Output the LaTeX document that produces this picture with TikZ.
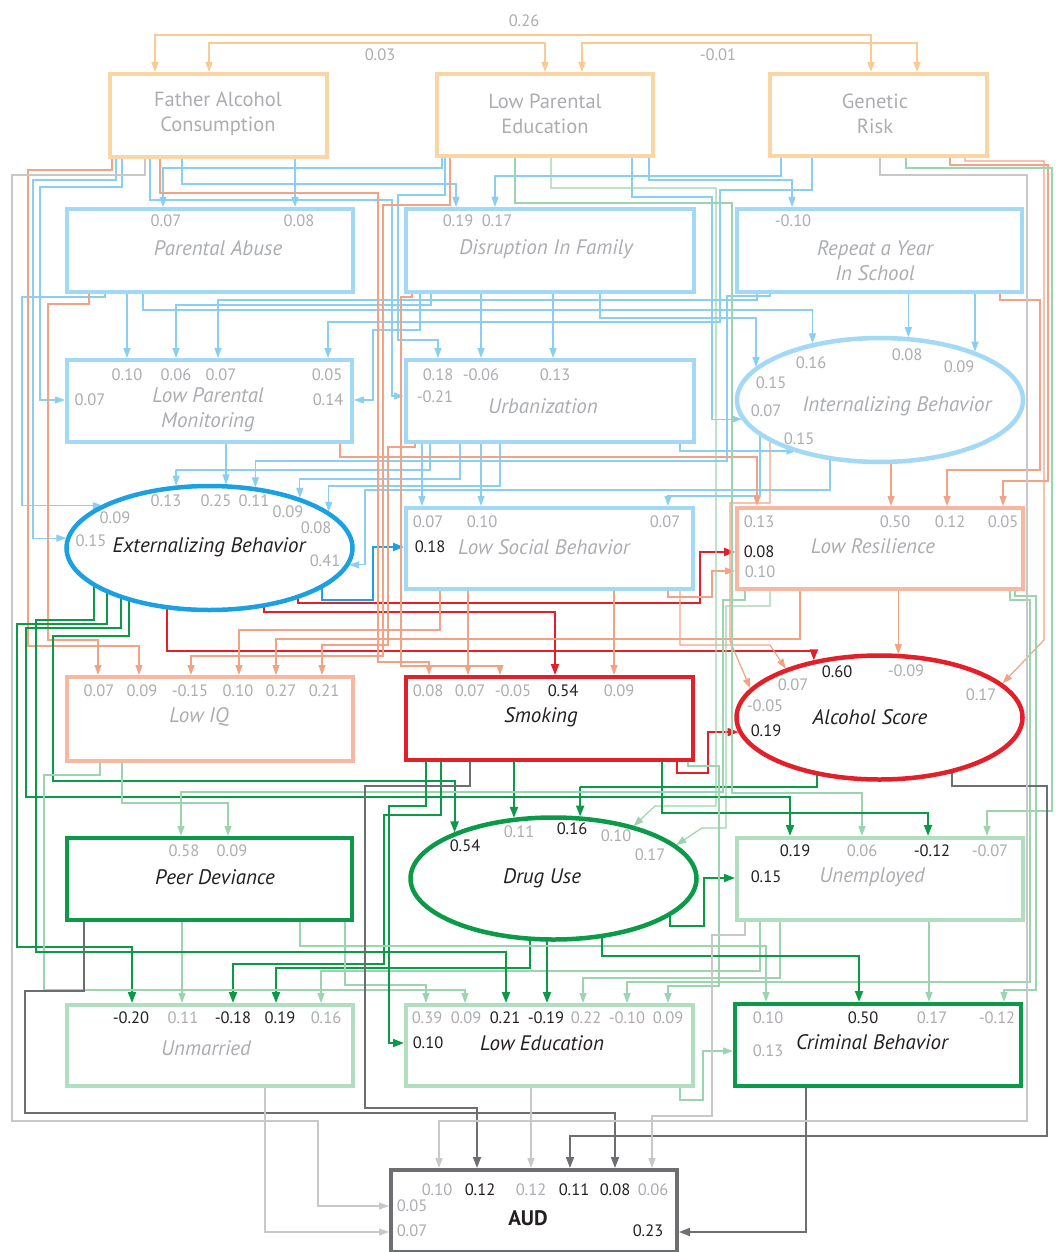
\documentclass[tikz,border=0pt]{standalone}
\usepackage{fontspec}
\setmainfont{PT Sans}
\usetikzlibrary{arrows.meta,shapes.geometric}
\definecolor{cOr}{HTML}{F9D6A3}
\definecolor{cOrw}{HTML}{F8CC90}
\definecolor{cLB}{HTML}{A3D9F4}
\definecolor{wLB}{HTML}{8ACFF0}
\definecolor{cB}{HTML}{1BA1E2}
\definecolor{cSa}{HTML}{F7B7A0}
\definecolor{wSa}{HTML}{F4A285}
\definecolor{cR}{HTML}{E3202A}
\definecolor{cLG}{HTML}{B0DEBE}
\definecolor{wLG}{HTML}{9BD4AE}
\definecolor{cG}{HTML}{0B9B48}
\definecolor{cGr}{HTML}{C8C8C8}
\definecolor{cDg}{HTML}{6D6E71}
\definecolor{tL}{HTML}{ABADB0}
\definecolor{tD}{HTML}{231F20}
\pgfdeclarelayer{back}\pgfdeclarelayer{wires}\pgfsetlayers{back,wires,main}
\newcounter{nn}
\newcommand\lab[3][lgt]{\stepcounter{nn}\node[#1] (t\thenn) at (#2) {#3};}
\tikzset{
 box/.style={rectangle, inner sep=0pt, outer sep=0pt, fill=white, line width=4.5pt},
 ell/.style={ellipse, inner sep=0pt, outer sep=0pt, fill=white, line width=4.5pt},
 wire/.style={line width=1.2pt, shorten >=2pt, -{Triangle[length=10pt,width=7pt]}},
 wb/.style={wire, draw=wLB}, ws/.style={wire, draw=wSa}, wg/.style={wire, draw=wLG}, wgr/.style={wire, draw=cGr},
 strong/.style={line width=2pt, shorten >=2pt, -{Triangle[length=11pt,width=8pt]}},
 WB/.style={strong, draw=cB}, WR/.style={strong, draw=cR}, WG/.style={strong, draw=cG}, WD/.style={strong, draw=cDg, line width=1.7pt},
 cor/.style={line width=1.5pt, draw=cOrw, {Triangle[length=10pt,width=7pt]}-{Triangle[length=10pt,width=7pt]}, shorten <=2pt, shorten >=2pt},
 lgt/.style={inner sep=0pt, text=tL, font=\fontsize{16.5}{19}\selectfont},
 drk/.style={lgt, text=tD},
 ttl/.style={inner sep=0pt, text=tL, align=center, font=\fontsize{21}{25}\selectfont\itshape},
 ttld/.style={ttl, text=tD},
 ttlx/.style={ttl, font=\fontsize{20.5}{25}\selectfont},
 audt/.style={inner sep=0pt, text=tD, font=\fontsize{21}{24}\selectfont\bfseries},
}
\begin{document}
\begin{tikzpicture}[x=1pt,y=-1pt]
\begin{pgfonlayer}{back}
\fill[white] (0,0) rectangle (1056,1252);
\end{pgfonlayer}
\useasboundingbox (0,0) rectangle (1056,1252);
% nodes
\node[box, draw=cOr, minimum width=217pt, minimum height=83pt] (fa) at (218.5,115.5) {};
\node[box, draw=cOr, minimum width=216pt, minimum height=82pt] (lpe) at (545,115) {};
\node[box, draw=cOr, minimum width=217pt, minimum height=82pt] (gr) at (878.5,115) {};
\node[box, draw=cLB, minimum width=286pt, minimum height=83pt] (pa) at (210,250.5) {};
\node[box, draw=cLB, minimum width=288pt, minimum height=83pt] (dif) at (550,250.5) {};
\node[box, draw=cLB, minimum width=285pt, minimum height=83pt] (rys) at (879.5,250.5) {};
\node[box, draw=cLB, minimum width=285pt, minimum height=82pt] (lpm) at (209.5,401) {};
\node[box, draw=cLB, minimum width=288pt, minimum height=82pt] (urb) at (550,401) {};
\node[ell, draw=cLB, minimum width=286pt, minimum height=124pt] (intb) at (880,400) {};
\node[ell, draw=cB, minimum width=286pt, minimum height=124pt] (extb) at (209.5,548) {};
\node[box, draw=cLB, minimum width=287pt, minimum height=81pt] (lsb) at (549.5,548.5) {};
\node[box, draw=cSa, minimum width=286pt, minimum height=81pt] (lres) at (880,548.5) {};
\node[box, draw=cSa, minimum width=286pt, minimum height=84pt] (liq) at (210,719) {};
\node[box, draw=cR, minimum width=287pt, minimum height=83pt] (smk) at (549.5,718.5) {};
\node[ell, draw=cR, minimum width=286pt, minimum height=124pt] (alc) at (879.5,717.5) {};
\node[box, draw=cG, minimum width=285pt, minimum height=82pt] (pd) at (209.5,879) {};
\node[ell, draw=cG, minimum width=286pt, minimum height=122pt] (drug) at (553.5,878.5) {};
\node[box, draw=cLG, minimum width=286pt, minimum height=82pt] (unemp) at (880,879) {};
\node[box, draw=cLG, minimum width=286pt, minimum height=81pt] (unm) at (210,1045.5) {};
\node[box, draw=cLG, minimum width=287pt, minimum height=81pt] (ledu) at (549.5,1045.5) {};
\node[box, draw=cG, minimum width=286pt, minimum height=82pt] (crim) at (878,1045) {};
\node[box, draw=cDg, minimum width=286pt, minimum height=82pt] (aud) at (534,1211) {};

\begin{pgfonlayer}{wires}
% correlations
\draw[cor] (fa.north -| 155,0) |- (871,35) -- (gr.north -| 871,0);
\draw[cor] (fa.north -| 209,0) |- (545,43) -- (lpe.north -| 545,0);
\draw[cor] (lpe.north -| 582,0) |- (917,43) -- (gr.north -| 917,0);
% row 2
\draw[wb] (fa.center -| 295,0) -- (pa.north -| 295,0);
\draw[wb] (lpe.center -| 442,0) |- (163,168) -- (pa.north -| 163,0);
\draw[wb] (fa.center -| 182,0) |- (456,184) -- (dif.north -| 456,0);
\draw[wb] (gr.center -| 781,0) |- (495,176) -- (dif.north -| 495,0);
\draw[wb] (lpe.center -| 649,0) |- (792,180) -- (rys.north -| 792,0);
% row 3
\draw[wb] (pa.center -| 127,0) -- (lpm.north -| 127,0);
\draw[wb] (dif.center -| 431,0) |- (176,305) -- (lpm.north -| 176,0);
\draw[wb] (rys.center -| 757,0) |- (218,300) -- (lpm.north -| 218,0);
\draw[wb] (gr.center -| 812,0) |- (720,190) |- (328,322) -- (lpm.north -| 328,0);
\draw[wb] (fa.center -| 122,0) |- (40,187) |- (lpm.west |- 0,400);
\draw[wb] (dif.center -| 420,0) |- (373,330) |- (lpm.east |- 0,400);
\draw[wb] (lpe.center -| 445,0) |- (398,195) |- (438,340) -- (urb.north -| 438,0);
\draw[wb] (dif.center -| 481,0) -- (urb.north -| 481,0);
\draw[wb] (dif.center -| 553,0) -- (urb.north -| 553,0);
\draw[wb] (fa.center -| 150,0) |- (392,200) |- (urb.west |- 0,396);
\draw[wb] (pa.center -| 143,0) |- (812,310) -| (intb.141);
\draw[wb] (rys.center -| 908,0) -| (intb.65);
\draw[wb] (rys.center -| 975,0) -| (intb.26);
\draw[wb] (dif.center -| 600,0) |- (756,318) -| (intb.166);
\draw[wb] (lpe.center -| 632,0) |- (712,197) |- (intb.188);
\draw[wb] (urb.center -| 680,0) |- (intb.212);
% row 4
\draw[wb] (urb.center -| 430,0) |- (176,470) -| (extb.119);
\draw[wb] (lpm.center -| 225,0) -| (extb.75);
\draw[wb] (rys.center -| 770,0) |- (727,296) |- (255,461) -| (extb.52);
\draw[wb] (urb.center -| 460,0) |- (300,479) -| (extb.28);
\draw[wb] (urb.center -| 500,0) |- (328,486) -| (extb.16);
\draw[wb] (pa.center -| 105,0) |- (22,297) |- (extb.158);
\draw[wb] (fa.center -| 116,0) |- (33,180) |- (extb.176);
\draw[wb] (intb.center -| 830,0) |- (365,490) |- (extb.353);
\draw[wb] (urb.center -| 422,0) -- (lsb.north -| 422,0);
\draw[wb] (urb.center -| 481,0) -- (lsb.north -| 481,0);
\draw[wb] (intb.center -| 760,0) |- (668,496) -- (lsb.north -| 668,0);
\draw[WB] (extb.center -| 322,0) |- (373,600) |- (lsb.west |- 0,547);
\draw[ws] (lpm.center -| 340,0) |- (757,457) -- (lres.north -| 757,0);
\draw[ws] (intb.center -| 891,0) -- (lres.north -| 891,0);
\draw[ws] (rys.center -| 1000,0) |- (1040,300) |- (947,470) -- (lres.north -| 947,0);
\draw[ws] (gr.center -| 950,0) |- (1048,165) |- (1003,481) -- (lres.north -| 1003,0);
\draw[WR] (extb.center -| 298,0) |- (700,603) |- (lres.west |- 0,552);
\draw[ws] (lsb.center -| 668,0) |- (712,597) |- (lres.west |- 0,571);
% row 5
\draw[WR] (extb.center -| 264,0) |- (555,612) -- (smk.north -| 555,0);
\draw[WR] (extb.center -| 167,0) |- (815,651) -| (alc.140);
\draw[ws] (pa.center -| 89,0) |- (48,304) |- (98,640) -- (liq.north -| 98,0);
\draw[ws] (fa.center -| 112,0) |- (28,170) |- (139,646) -- (liq.north -| 139,0);
\draw[ws] (lpe.center -| 450,0) |- (383,205) |- (191,656) -- (liq.north -| 191,0);
\draw[ws] (lsb.center -| 440,0) |- (239,630) -- (liq.north -| 239,0);
\draw[ws] (lres.center -| 800,0) |- (276,639) -- (liq.north -| 276,0);
\draw[ws] (urb.center -| 415,0) |- (388,447) |- (322,645) -- (liq.north -| 322,0);
\draw[ws] (fa.center -| 160,0) |- (378,193) |- (429,662) -- (smk.north -| 429,0);
\draw[ws] (lsb.center -| 468,0) -- (smk.north -| 468,0);
\draw[ws] (dif.center -| 412,0) |- (401,297) |- (500,666) -- (smk.north -| 500,0);
\draw[ws] (lsb.center -| 614,0) -- (smk.north -| 614,0);
\draw[ws] (lsb.center -| 680,0) |- (770,645) -- (alc.153);
\draw[ws] (intb.center -| 770,0) |- (730,503) -- (730,641) -- (alc.168);
\draw[ws] (lres.center -| 899,0) -| (alc.73);
\draw[ws] (gr.center -| 965,0) |- (1044,161) -- (1044,640) -- (alc.15);
\draw[WR] (smk.center -| 677,0) |- (708,773) |- (alc.186);
% row 6
\draw[WG] (extb.center -| 129,0) |- (53,636) |- (454,781) -| (drug.156);
\draw[WG] (smk.center -| 513,0) -| (drug.124);
\draw[WG] (alc.center -| 817,0) |- (580,787) -| (drug.66);
\draw[wg] (lpe.center -| 551,0) |- (716,188) -- (716,806) -- (655,806) -- (drug.33);
\draw[wg] (lres.center -| 770,0) |- (726,606) -- (726,828) -- (702,828) -- (drug.15);
\draw[WG] (extb.center -| 121,0) |- (26,628) |- (790,797) -- (unemp.north -| 790,0);
\draw[wg] (lpe.center -| 515,0) |- (732,203) |- (862,793) -- (unemp.north -| 862,0);
\draw[WG] (smk.center -| 662,0) |- (928,813) -- (unemp.north -| 928,0);
\draw[wg] (gr.center -| 906,0) |- (1052,168) |- (987,811) -- (unemp.north -| 987,0);
\draw[WG] (drug.center -| 670,0) |- (704,926) |- (unemp.west |- 0,878);
\draw[wg] (lres.center -| 745,0) |- (723,600) |- (181,792) -- (pd.north -| 181,0);
\draw[wg] (liq.center -| 122,0) |- (228,803) -- (pd.north -| 228,0);
% row 7
\draw[WG] (extb.center -| 107,0) |- (17,624) |- (132,947) -- (unm.north -| 132,0);
\draw[wg] (pd.center -| 182,0) -- (unm.north -| 182,0);
\draw[WG] (smk.center -| 441,0) |- (384,815) |- (233,964) -- (unm.north -| 233,0);
\draw[WG] (drug.center -| 530,0) |- (276,968) -- (unm.north -| 276,0);
\draw[wg] (unemp.center -| 760,0) |- (321,971) -- (unm.north -| 321,0);
\draw[wg] (pd.center -| 345,0) |- (426,985) -- (ledu.north -| 426,0);
\draw[wg] (liq.center -| 100,0) |- (44,775) |- (465,990) -- (ledu.north -| 465,0);
\draw[WG] (extb.center -| 94,0) |- (36,620) |- (506,952) -- (ledu.north -| 506,0);
\draw[WG] (drug.center -| 547,0) -- (ledu.north -| 547,0);
\draw[wg] (unemp.center -| 780,0) |- (583,978) -- (ledu.north -| 583,0);
\draw[wg] (lres.center -| 1010,0) |- (1030,600) |- (627,982) -- (ledu.north -| 627,0);
\draw[wg] (smk.center -| 688,0) |- (719,766) |- (668,986) -- (ledu.north -| 668,0);
\draw[WG] (smk.center -| 426,0) |- (389,806) |- (ledu.west |- 0,1043);
\draw[wg] (pd.center -| 300,0) |- (766,946) -- (crim.north -| 766,0);
\draw[WG] (drug.center -| 602,0) |- (859,956) -- (crim.north -| 859,0);
\draw[wg] (unemp.center -| 929,0) -- (crim.north -| 929,0);
\draw[wg] (lres.center -| 1015,0) |- (1036,596) |- (1004,990) -- (crim.north -| 1004,0);
\draw[wg] (ledu.center -| 680,0) |- (703,1100) |- (crim.west |- 0,1051);
% AUD
\draw[WD] (pd.center -| 84,0) |- (25,991) |- (615,1113) -- (aud.north -| 615,0);
\draw[WD] (smk.center -| 470,0) |- (365,786) |- (477,1108) -- (aud.north -| 477,0);
\draw[WD] (alc.center -| 952,0) |- (1047,786) |- (570,1136) -- (aud.north -| 570,0);
\draw[WD] (crim.center -| 806,0) |- (aud.east |- 0,1232);
\draw[wgr] (fa.center -| 145,0) |- (12,175) |- (318,1121) |- (aud.west |- 0,1206);
\draw[wgr] (unm.center -| 265,0) |- (aud.west |- 0,1232);
\draw[wgr] (gr.center -| 880,0) |- (1027,175) |- (439,1121) -- (aud.north -| 439,0);
\draw[wgr] (ledu.center -| 531,0) -- (aud.north -| 531,0);
\draw[wgr] (unemp.center -| 745,0) |- (712,935) |- (652,1116) -- (aud.north -| 652,0);
\end{pgfonlayer}

% titles
\lab[ttlx]{218,114}{Father Alcohol\\Consumption}
\lab[ttlx]{545,114}{Low Parental\\Education}
\lab[ttlx]{875,114}{Genetic\\Risk}
\lab[ttl]{218,248}{Parental Abuse}
\lab[ttl]{546,249}{Disruption In Family}
\lab[ttl]{875,261}{Repeat a Year\\In School}
\lab[ttl]{208,410}{Low Parental\\Monitoring}
\lab[ttl]{543,406}{Urbanization}
\lab[ttl]{897,406}{Internalizing Behavior}
\lab[ttld]{209,547}{Externalizing Behavior}
\lab[ttl]{544,547}{Low Social Behavior}
\lab[ttl]{873,546}{Low Resilience}
\lab[ttl]{199,717}{Low IQ}
\lab[ttld]{541,717}{Smoking}
\lab[ttld]{870,717}{Alcohol Score}
\lab[ttld]{215,877}{Peer Deviance}
\lab[ttld]{542,878}{Drug Use}
\lab[ttl]{872,877}{Unemployed}
\lab[ttl]{206,1048}{Unmarried}
\lab[ttld]{542,1043}{Low Education}
\lab[ttld]{872,1042}{Criminal Behavior}
\lab[audt]{528,1218}{AUD}
% coefficient labels
\lab{524,21}{0.26}\lab{380,55}{0.03}\lab{718,55}{-0.01}
\lab{166,221}{0.07}\lab{299,221}{0.08}
\lab{458,221}{0.19}\lab{497,221}{0.17}
\lab{793,221}{-0.10}
\lab{127,375}{0.10}\lab{176,375}{0.06}\lab{221,375}{0.07}\lab{327,375}{0.05}\lab{90,400}{0.07}\lab{328,400}{0.14}
\lab{438,375}{0.18}\lab{481,375}{-0.06}\lab{555,375}{0.13}\lab{435,397}{-0.21}
\lab{811,363}{0.16}\lab{907,355}{0.08}\lab{959,367}{0.09}\lab{771,383}{0.15}\lab{766,411}{0.07}\lab{799,439}{0.15}
\lab{166,501}{0.13}\lab{216,501}{0.25}\lab{254,501}{0.11}\lab{288,512}{0.09}\lab{316,528}{0.08}\lab{115,518}{0.09}\lab{91,541}{0.15}\lab{325,561}{0.41}
\lab{428,522}{0.07}\lab{482,522}{0.10}\lab{665,522}{0.07}\lab[drk]{430,547}{0.18}
\lab{759,522}{0.13}\lab{895,522}{0.50}\lab{950,522}{0.12}\lab{1003,522}{0.05}\lab[drk]{759,552}{0.08}\lab{760,572}{0.10}
\lab{99,691}{0.07}\lab{142,691}{0.09}\lab{190,691}{-0.15}\lab{238,691}{0.10}\lab{281,691}{0.27}\lab{324,691}{0.21}
\lab{428,691}{0.08}\lab{470,691}{0.07}\lab{513,691}{-0.05}\lab[drk]{563,691}{0.54}\lab{619,691}{0.09}
\lab[drk]{837,672}{0.60}\lab{906,671}{-0.09}\lab{793,685}{0.07}\lab{765,706}{-0.05}\lab{981,695}{0.17}\lab[drk]{766,731}{0.19}
\lab{184,851}{0.58}\lab{232,851}{0.09}
\lab[drk]{465,846}{0.54}\lab{519,832}{0.11}\lab[drk]{572,829}{0.16}\lab{616,836}{0.10}\lab{650,855}{0.17}
\lab[drk]{795,851}{0.19}\lab{862,851}{0.06}\lab[drk]{932,851}{-0.12}\lab{990,851}{-0.07}\lab[drk]{766,877}{0.15}
\lab[drk]{131,1018}{-0.20}\lab{183,1018}{0.11}\lab[drk]{233,1018}{-0.18}\lab[drk]{280,1018}{0.19}\lab{326,1018}{0.16}
\lab{427,1018}{0.39}\lab{466,1018}{0.09}\lab[drk]{505,1018}{0.21}\lab[drk]{546,1018}{-0.19}\lab{586,1018}{0.22}\lab{627,1018}{-0.10}\lab{668,1018}{0.09}\lab[drk]{428,1043}{0.10}
\lab{768,1018}{0.10}\lab[drk]{863,1018}{0.50}\lab{932,1018}{0.17}\lab{997,1018}{-0.12}\lab{768,1051}{0.13}
\lab{437,1190}{0.10}\lab[drk]{480,1190}{0.12}\lab{531,1190}{0.12}\lab[drk]{574,1190}{0.11}\lab[drk]{615,1190}{0.08}\lab{653,1190}{0.06}\lab{412,1206}{0.05}\lab{412,1231}{0.07}\lab[drk]{648,1231}{0.23}
\end{tikzpicture}
\end{document}
